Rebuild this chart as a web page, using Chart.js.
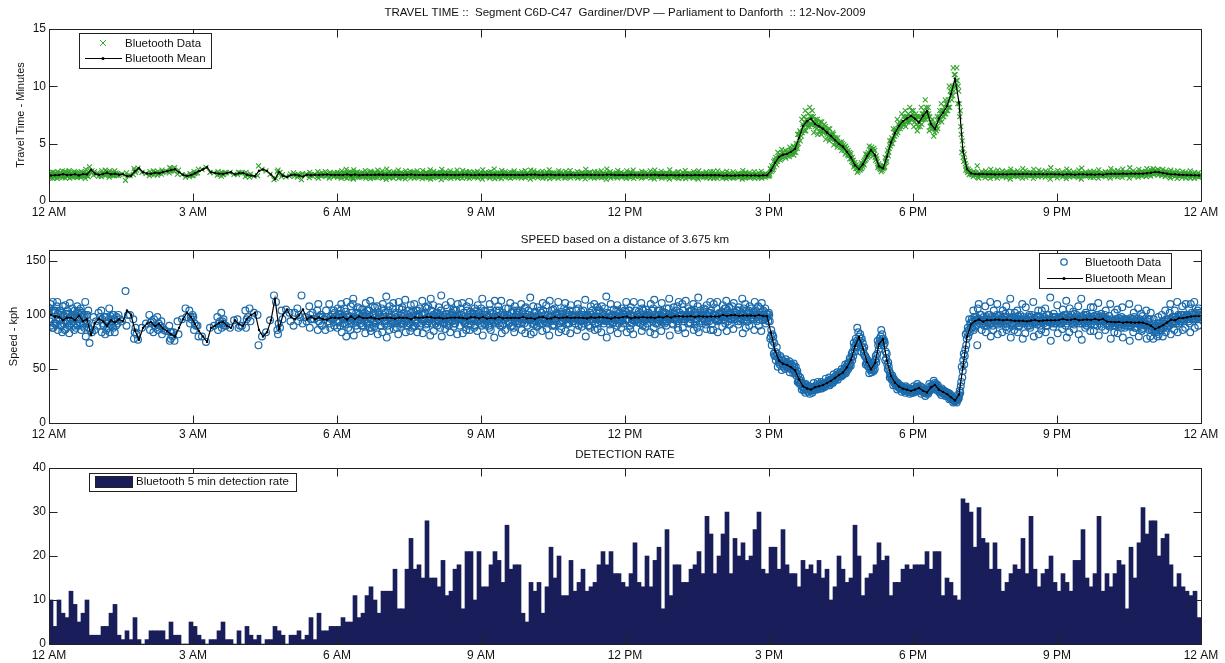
<!DOCTYPE html>
<html>
<head>
<meta charset="utf-8">
<script src="https://cdn.jsdelivr.net/npm/chart.js@4.4.1/dist/chart.umd.min.js"></script>
<style>
  body { margin: 0; background: #fff; }
  canvas { position: absolute; left: 0; }
</style>
</head>
<body>
<canvas id="ttChart" width="1225" height="222" style="top:0"></canvas>
<canvas id="speedChart" width="1225" height="222" style="top:222px"></canvas>
<canvas id="rateChart" width="1225" height="219" style="top:444px"></canvas>
<script>
// x axis tick labels, one every 3 hours (180 min)
var hourLabels = ['12 AM', '3 AM', '6 AM', '9 AM', '12 PM', '3 PM', '6 PM', '9 PM', '12 AM'];
var ttTicks = [0, 5, 10, 15];
var speedTicks = [0, 50, 100, 150];
var rateTicks = [0, 10, 20, 30, 40];
var segmentKm = 3.675;

// detections per 5 minute bin, 288 bins from midnight
var detections = [
  10, 4, 10, 7, 6, 12, 9, 5, 7, 10, 2, 2,
  2, 4, 4, 7, 9, 2, 1, 3, 1, 6, 1, 0,
  1, 3, 3, 3, 3, 1, 5, 2, 2, 0, 0, 5,
  4, 2, 1, 0, 1, 1, 3, 5, 1, 1, 0, 3,
  0, 4, 2, 1, 2, 0, 1, 1, 4, 3, 2, 0,
  2, 2, 3, 1, 2, 6, 1, 7, 3, 3, 4, 4,
  4, 6, 5, 5, 11, 6, 7, 11, 13, 10, 7, 12,
  12, 12, 17, 8, 8, 17, 24, 17, 18, 15, 28, 15,
  15, 13, 19, 11, 12, 17, 18, 8, 21, 21, 10, 21,
  13, 13, 18, 21, 19, 14, 27, 17, 18, 18, 7, 5,
  14, 12, 14, 7, 13, 22, 15, 20, 11, 11, 19, 12,
  14, 17, 12, 13, 14, 18, 21, 18, 21, 16, 16, 14,
  13, 16, 23, 14, 13, 20, 13, 19, 22, 8, 26, 11,
  18, 18, 14, 14, 17, 18, 21, 16, 29, 25, 16, 20,
  25, 30, 16, 24, 20, 23, 19, 20, 26, 30, 17, 16,
  22, 22, 17, 26, 18, 16, 16, 13, 19, 17, 18, 16,
  19, 15, 17, 10, 13, 20, 17, 14, 15, 27, 20, 11,
  15, 16, 18, 23, 19, 20, 11, 14, 14, 17, 18, 17,
  18, 18, 18, 21, 17, 21, 21, 11, 15, 14, 11, 10,
  33, 32, 30, 22, 31, 24, 23, 17, 23, 17, 12, 14,
  16, 18, 17, 24, 16, 29, 17, 13, 16, 17, 20, 14,
  12, 16, 14, 12, 19, 19, 26, 15, 13, 16, 29, 12,
  16, 13, 16, 19, 18, 8, 22, 15, 23, 31, 25, 28,
  28, 20, 24, 25, 18, 13, 16, 13, 12, 11, 12, 6
];

// speed readings (kph), first half of each 5 minute bin, one line per hour
var speedFirstHalf = [
  [106,94,110,90],[88,104,92,104],[112,86,101,97],[90,102,84,108],[109,87,95,101],[83,111,97,97],[100,90,86,104],[108,90,102,96],[86,102,98,90],[112,80,92,100],[74,86],[98,86],
  [90,102],[104,84,96,92],[82,98,86,94],[106,84,99,91],[88,100,96,84],[92,100],[94],[122,90],[100],[96,78,84],[77],[88],
  [92],[100,86,93],[84,96,90],[98,86,92],[94,82,88],[85],[90,76,84,78],[84,76],[94,82],[96],[106,98],[104,92,98],
  [98,86,92],[90,80],[80],[75],[88],[90],[98,86,92],[102,88,94,92],[90],[88],[95],[96,88],
  [90],[104,88,96],[106,94],[102],[100,72],[80],[84],[95],[118],[86,82,92],[104,96],[105],
  [102,94],[90,102],[106,94,100],[118,92],[98,94],[108,88,100,96],[96],[104,86,110,94],[100,90,98],[86,104,98],[110,92,88,98],[96,104,90,102],
  [88,106,93,101],[110,84,97,99],[91,103,80,112],[99,95,86,108],[115,81,94,98],[87,107,102,96],[96,90,105,101],[83,111,98,92],[104,88,113,85],[93,101,89,107],[108,82,96,100],[90,106,84,110],
  [102,94,117,79],[86,108,97,95],[111,87,92,100],[95,97,82,112],[89,105,107,91],[114,84,96,94],[98,92,85,109],[103,89,110,90],[84,104,99,101],[92,100,113,83],[107,91,88,106],[96,98,81,115],
  [109,85,100,94],[90,102,95,107],[118,80,97,93],[87,109,101,91],[94,98,84,112],[105,89,92,104],[82,110,99,97],[100,96,111,83],[93,95,86,108],[112,86,103,91],[97,101,88,106],[85,109,94,98],
  [106,90,115,81],[91,103,96,100],[88,110,104,86],[101,93,79,113],[95,99,108,92],[113,83,90,102],[86,106,97,97],[99,93,111,89],[104,88,84,108],[92,102,100,94],[110,86,93,103],[83,107,98,96],
  [97,95,116,82],[108,84,91,103],[89,107,100,96],[102,92,85,111],[94,96,109,87],[81,113,98,94],[105,91,90,106],[99,97,112,84],[87,103,95,101],[111,85,104,92],[92,104,83,109],[100,94,97,99],
  [86,110,106,90],[103,89,94,100],[114,80,99,97],[90,102,88,108],[96,98,110,86],[107,87,92,104],[84,108,101,95],[98,94,117,79],[101,91,86,110],[93,105,97,97],[109,83,104,92],[88,106,95,101],
  [95,103,112,84],[104,90,87,107],[82,112,99,95],[100,96,93,103],[111,85,106,90],[89,105,98,98],[97,99,84,110],[106,88,114,82],[92,104,96,100],[85,111,103,93],[102,94,90,106],[115,81,97,99],
  [91,107,101,97],[108,88,86,112],[96,100,110,88],[83,113,99,97],[103,93,92,104],[110,86,105,91],[88,108,116,84],[99,97,94,102],[105,91,87,109],[94,102,112,86],[86,110,100,96],[112,84,95,101],
  [100,98,89,109],[92,106,113,85],[107,91,102,96],[87,111,98,100],[104,94,91,107],[96,102,115,83],[110,88,94,104],[90,108,101,97],[102,96,86,112],[98,100,108,90],[85,111,103,95],[106,92,97,101],
  [100,94,78,80],[80,64,74,62],[64,52,60,56],[60,49,58,53],[50,59,55,52],[57,47,54,50],[46,55,52,47],[48,38,44,38],[39,31,37,33],[28,36,31,33],[34,27,33,30],[30,37,32,33],
  [31,38,33,34],[38,32,36,34],[34,41,36,37],[42,35,40,39],[38,45,40,41],[47,40,45,44],[43,50,44,47],[54,46,52,48],[52,60,55,53],[62,74,70,66],[88,74,84,74],[66,78,70,74],
  [62,54,60,56],[46,54,49,51],[56,48,54,50],[64,76,72,68],[86,76,82,76],[58,66,60,64],[48,42,46,44],[35,41,37,39],[31,37,33,35],[34,29,33,32],[28,34,30,32],[32,27,31,30],
  [28,34,30,32],[36,30,34,32],[27,33,29,31],[25,31,27,29],[36,30,34,32],[33,39,35,37],[30,35,31,32],[26,32,28,30],[25,29,26,28],[22,27,23,24],[19,23,20,22],[21,26,22,23],
  [38,52,42,48],[68,82,72,78],[96,84,92,88],[104,86,98,88],[72,106,96,110],[100,86,94,92],[108,84,90,98],[92,100,112,80],[86,104,96,94],[110,82,91,99],[95,97,84,104],[101,89,108,86],
  [88,102,115,79],[97,91,86,102],[104,84,99,89],[92,96,110,78],[83,107,94,94],[100,90,88,98],[112,80,97,93],[91,99,104,82],[86,104,93,95],[106,84,90,100],[95,93,116,76],[89,101,98,92],
  [109,83,94,96],[92,98,87,105],[100,90,113,79],[84,106,97,95],[103,87,91,101],[96,94,108,82],[115,77,92,98],[88,102,100,90],[94,96,85,107],[107,85,99,91],[90,100,111,81],[101,89,95,97],
  [86,104,96,92],[99,89,110,78],[93,95,84,102],[105,83,91,97],[88,98,107,79],[96,90,93,95],[110,76,89,97],[84,102,98,88],[92,94,106,80],[101,85,87,99],[90,92,104,78],[86,96,80,102],
  [78,96,84,90],[92,80,98,82],[86,100,94,80],[104,84,96,88],[90,102,110,82],[98,92,86,104],[112,84,100,92],[94,100,108,86],[88,110,97,99],[106,92,84,110],[100,96,112,88],[96,104,90,106]
];

// speed readings (kph), second half of each 5 minute bin, one line per hour
var speedSecondHalf = [
  [96,104,88,112],[102,92,96,108],[94,104,90,100],[100,92,98,86],[104,94,100,90],[92,100,106,94],[98,88,92,102],[96,104,92,106],[92,98,88,100],[100,92,104,88],[84],[94],
  [98],[90,98],[92,88],[96,90,100],[94,90,98],[96],[],[100],[],[88,82],[],[],
  [],[94],[88],[90],[86],[],[84,80],[],[],[],[],[96,100],
  [90],[],[],[],[],[],[94],[96,90],[],[],[],[90],
  [],[98],[],[],[],[],[],[],[112],[88],[],[],
  [],[],[98],[],[],[96,102],[],[98,92,100],[96],[94],[96,100],[98,94],
  [94,100,90,104],[98,92,106,96],[100,94,88,98],[92,102,96,110],[96,90,102,94],[100,106,92,98],[90,98,94,102],[104,96,92,100],[96,88,100,108],[92,100,98,94],[102,94,90,98],[98,104,94,92],
  [96,90,104,98],[100,94,92,106],[94,102,98,88],[106,96,92,100],[98,92,102,94],[90,100,96,104],[102,96,88,98],[94,100,104,92],[98,106,90,96],[100,94,96,102],[92,98,108,94],[104,96,92,100],
  [98,92,102,96],[94,100,88,104],[100,96,92,98],[106,94,98,90],[96,102,94,100],[92,98,104,96],[100,90,96,106],[94,102,98,92],[104,96,90,100],[96,94,102,98],[90,100,96,104],[102,96,92,98],
  [96,100,92,104],[100,94,98,90],[94,102,96,98],[98,92,104,94],[104,96,90,100],[92,100,98,96],[100,94,106,92],[96,102,90,98],[94,98,100,104],[102,92,96,98],[98,96,92,106],[90,100,104,96],
  [100,96,92,98],[94,102,98,90],[98,92,104,96],[104,96,94,100],[92,100,96,98],[98,104,90,96],[96,94,100,102],[100,92,98,94],[94,98,106,96],[102,96,92,100],[96,100,94,98],[92,98,104,96],
  [98,94,100,96],[104,92,96,100],[96,100,90,98],[100,96,104,94],[92,98,96,102],[98,104,94,96],[96,92,100,106],[102,96,94,98],[94,100,98,92],[100,96,104,90],[96,102,94,98],[98,92,100,104],
  [96,100,94,104],[100,92,98,96],[94,104,96,100],[98,96,102,92],[104,94,98,96],[92,100,96,102],[98,96,104,94],[100,92,96,98],[96,104,94,100],[102,96,98,92],[94,98,100,106],[98,102,92,96],
  [100,96,104,94],[96,102,98,100],[104,94,100,96],[98,100,92,106],[96,104,98,100],[102,96,94,100],[98,92,104,100],[100,106,96,94],[94,100,102,98],[104,98,92,100],[100,96,106,94],[96,102,98,100],
  [102,96,100,106],[98,104,94,100],[100,96,108,98],[96,102,100,104],[104,98,94,100],[100,106,96,98],[98,94,102,104],[106,100,96,98],[100,104,98,94],[96,102,106,100],[104,98,100,96],[98,100,94,102],
  [86,72,82,76],[66,58,62,70],[58,54,62,56],[52,57,55,54],[56,51,53,54],[50,54,52,49],[48,52,44,46],[40,36,42,37],[34,30,36,32],[31,34,29,33],[30,33,28,32],[34,31,35,32],
  [33,36,32,35],[35,37,33,36],[38,36,39,35],[40,38,41,37],[43,40,44,42],[45,43,47,44],[48,45,50,47],[52,55,50,56],[60,64,58,66],[72,78,70,76],[80,76,82,78],[68,64,70,62],
  [54,58,52,56],[50,47,52,49],[58,62,56,60],[74,78,72,80],[78,72,76,74],[54,50,56,52],[42,40,44,41],[37,35,38,36],[34,32,35,33],[32,30,33,31],[30,32,29,31],[30,28,31,29],
  [31,29,33,30],[32,30,34,31],[29,31,28,30],[28,30,27,29],[32,34,31,35],[35,33,36,34],[30,28,31,29],[28,30,27,29],[26,28,25,27],[23,25,22,24],[20,22,21,19],[26,30,28,34],
  [58,64,54,62],[84,88,80,86],[92,96,88,94],[94,90,98,96],[96,92,100,94],[94,98,90,96],[96,92,100,94],[92,98,96,90],[98,94,92,100],[94,96,100,92],[96,92,98,94],[92,98,94,96],
  [96,92,98,90],[94,98,92,96],[90,96,100,94],[98,92,94,96],[94,90,98,92],[96,100,92,94],[92,96,94,98],[98,94,90,96],[94,92,98,96],[90,96,94,100],[96,92,98,94],[94,98,92,96],
  [94,98,96,92],[98,94,100,96],[92,96,94,98],[96,100,92,94],[98,94,96,100],[94,92,98,96],[96,100,94,92],[100,96,92,98],[92,98,96,94],[96,94,100,98],[98,92,94,96],[94,98,96,100],
  [92,96,90,94],[96,92,94,90],[90,94,96,92],[94,90,92,96],[92,96,94,88],[96,92,90,94],[90,94,92,96],[94,88,96,92],[92,96,90,94],[88,94,92,96],[94,90,96,88],[90,86,92,88],
  [86,90,84,88],[88,92,86,90],[92,88,94,90],[94,90,96,92],[96,92,98,94],[94,98,92,96],[98,94,96,100],[96,100,94,98],[100,96,98,94],[98,102,96,100],[100,96,102,98],[98,102,100,96]
];

// build point lists: readings spread over their half bin, travel time from speed over the segment
var speedPts = [], speedMean = [], ttPts = [], ttMean = [];
speedFirstHalf.forEach(function (first, i) {
  var halves = [first, speedSecondHalf[i] || []];
  var s = 0, t = 0, n = 0;
  halves.forEach(function (vals, h) {
    vals.forEach(function (v, j) {
      var x = i * 5 + h * 2.5 + (j + 0.5) * 2.5 / vals.length;
      var tt = 60 * segmentKm / v;
      speedPts.push({ x: x, y: v });
      ttPts.push({ x: x, y: tt });
      s += v; t += tt; n++;
    });
  });
  if (!n) return;
  speedMean.push({ x: i * 5 + 2.5, y: s / n });
  ttMean.push({ x: i * 5 + 2.5, y: t / n });
});
var ratePts = detections.map(function (c, i) { return { x: i * 5 + 2.5, y: c }; });

Chart.defaults.font.family = "'Liberation Sans', Arial, sans-serif";
Chart.defaults.font.size = 12;
Chart.defaults.color = '#111';

// matlab style box with inward ticks on all four sides
var matlabBox = {
  id: 'matlabBox',
  afterDraw: function (chart) {
    var ctx = chart.ctx, a = chart.chartArea, sx = chart.scales.x, sy = chart.scales.y;
    var L = Math.round(a.left) + 0.5, R = Math.round(a.right) + 0.5;
    var T = Math.round(a.top) + 0.5, B = Math.round(a.bottom) + 0.5;
    ctx.save();
    ctx.strokeStyle = '#222';
    ctx.lineWidth = 1;
    ctx.strokeRect(L, T, R - L, B - T);
    ctx.beginPath();
    sx.ticks.forEach(function (t) {
      var px = Math.round(sx.getPixelForValue(t.value)) + 0.5;
      ctx.moveTo(px, B); ctx.lineTo(px, B - 8);
      ctx.moveTo(px, T); ctx.lineTo(px, T + 8);
    });
    sy.ticks.forEach(function (t) {
      var py = Math.round(sy.getPixelForValue(t.value)) + 0.5;
      ctx.moveTo(L, py); ctx.lineTo(L + 8, py);
      ctx.moveTo(R, py); ctx.lineTo(R - 8, py);
    });
    ctx.stroke();
    ctx.restore();
  }
};

// boxed legend drawn inside the axes like matlab
var boxLegend = {
  id: 'boxLegend',
  afterDraw: function (chart, args, o) {
    var ctx = chart.ctx;
    ctx.save();
    ctx.fillStyle = '#fff';
    ctx.fillRect(o.box[0], o.box[1], o.box[2], o.box[3]);
    ctx.strokeStyle = '#222';
    ctx.lineWidth = 1;
    ctx.strokeRect(o.box[0] + 0.5, o.box[1] + 0.5, o.box[2], o.box[3]);
    o.rows.forEach(function (r) {
      var ds = chart.data.datasets[r.ds];
      ctx.lineWidth = 1;
      if (r.kind === 'cross') {
        ctx.strokeStyle = ds.borderColor;
        ctx.beginPath();
        ctx.moveTo(o.symX - 3, r.y - 3); ctx.lineTo(o.symX + 3, r.y + 3);
        ctx.moveTo(o.symX - 3, r.y + 3); ctx.lineTo(o.symX + 3, r.y - 3);
        ctx.stroke();
      } else if (r.kind === 'circle') {
        ctx.strokeStyle = ds.borderColor;
        ctx.lineWidth = 1.3;
        ctx.beginPath();
        ctx.arc(o.symX, r.y, 3.2, 0, Math.PI * 2);
        ctx.stroke();
      } else if (r.kind === 'line') {
        ctx.strokeStyle = '#000';
        ctx.beginPath();
        ctx.moveTo(o.lineFrom, r.y + 0.5); ctx.lineTo(o.lineTo, r.y + 0.5);
        ctx.stroke();
        ctx.fillStyle = '#000';
        ctx.beginPath();
        ctx.arc(o.symX, r.y + 0.5, 1.6, 0, Math.PI * 2);
        ctx.fill();
      } else if (r.kind === 'bar') {
        ctx.fillStyle = ds.backgroundColor;
        ctx.fillRect(o.swatch[0], o.swatch[1], o.swatch[2], o.swatch[3]);
        ctx.strokeStyle = '#222';
        ctx.strokeRect(o.swatch[0] + 0.5, o.swatch[1] + 0.5, o.swatch[2], o.swatch[3]);
      }
      ctx.fillStyle = '#111';
      ctx.font = "11.5px 'Liberation Sans', Arial, sans-serif";
      ctx.textBaseline = 'middle';
      ctx.fillText(ds.label, o.textX, r.y + 0.5);
    });
    ctx.restore();
  }
};

function timeAxis(h) {
  return {
    type: 'linear', min: 0, max: 1440, offset: false,
    grid: { display: false, drawTicks: false },
    border: { display: false },
    ticks: {
      stepSize: 180, autoSkip: false, maxRotation: 0, padding: 4,
      callback: function (v) { return hourLabels[Math.round(v / 180)]; }
    },
    afterFit: function (s) { s.height = h; }
  };
}

function valueAxis(tickVals, max, title, titlePad) {
  return {
    min: tickVals[0], max: max,
    grid: { display: false, drawTicks: false },
    border: { display: false },
    ticks: { padding: 3 },
    afterBuildTicks: function (s) {
      s.ticks = tickVals.map(function (v) { return { value: v }; });
    },
    title: { display: !!title, text: title, font: { size: 11 }, padding: { top: titlePad, bottom: 0 } },
    afterFit: function (s) { s.width = 49; }
  };
}

function titleOpts(text, top, bottom) {
  return {
    display: true, text: text, fullSize: false, color: '#111',
    font: { size: 11.5, weight: 'normal' },
    padding: { top: top, bottom: bottom }
  };
}

var common = {
  responsive: false,
  animation: false,
  devicePixelRatio: 1,
  layout: { padding: { left: 0, right: 24, top: 0, bottom: 0 } }
};

new Chart(document.getElementById('ttChart'), {
  type: 'scatter',
  data: {
    datasets: [{
      label: 'Bluetooth Mean', data: ttMean, showLine: true,
      borderColor: '#000', backgroundColor: '#000', borderWidth: 1.2,
      pointRadius: 1.2, pointBorderWidth: 0
    }, {
      label: 'Bluetooth Data', data: ttPts,
      pointStyle: 'crossRot', pointRadius: 3.5, borderWidth: 1.1,
      borderColor: '#34a52d', backgroundColor: '#34a52d'
    }]
  },
  options: Object.assign({}, common, {
    scales: { x: timeAxis(21), y: valueAxis(ttTicks, 15, 'Travel Time - Minutes', 14) },
    plugins: {
      legend: { display: false }, tooltip: { enabled: false },
      title: titleOpts('TRAVEL TIME ::  Segment C6D-C47  Gardiner/DVP \u2014 Parliament to Danforth  :: 12-Nov-2009', 6, 9.2),
      boxLegend: {
        box: [79, 33, 132, 35], symX: 103, lineFrom: 85, lineTo: 122, textX: 125,
        rows: [{ ds: 1, kind: 'cross', y: 43 }, { ds: 0, kind: 'line', y: 58 }]
      }
    }
  }),
  plugins: [matlabBox, boxLegend]
});

new Chart(document.getElementById('speedChart'), {
  type: 'scatter',
  data: {
    datasets: [{
      label: 'Bluetooth Mean', data: speedMean, showLine: true,
      borderColor: '#000', backgroundColor: '#000', borderWidth: 1.2,
      pointRadius: 1.2, pointBorderWidth: 0
    }, {
      label: 'Bluetooth Data', data: speedPts,
      pointStyle: 'circle', pointRadius: 3.4, borderWidth: 1.2,
      borderColor: '#1b6aab', backgroundColor: 'rgba(0,0,0,0)'
    }]
  },
  options: Object.assign({}, common, {
    scales: { x: timeAxis(21), y: valueAxis(speedTicks, 160, 'Speed - kph', 7) },
    plugins: {
      legend: { display: false }, tooltip: { enabled: false },
      title: titleOpts('SPEED based on a distance of 3.675 km', 11, 3.2),
      boxLegend: {
        box: [1039, 31, 132, 35], symX: 1064, lineFrom: 1047, lineTo: 1083, textX: 1085,
        rows: [{ ds: 1, kind: 'circle', y: 40 }, { ds: 0, kind: 'line', y: 56 }]
      }
    }
  }),
  plugins: [matlabBox, boxLegend]
});

new Chart(document.getElementById('rateChart'), {
  type: 'bar',
  data: {
    datasets: [{
      label: 'Bluetooth 5 min detection rate', data: ratePts,
      backgroundColor: '#191d5a', borderWidth: 0,
      barPercentage: 1, categoryPercentage: 1
    }]
  },
  options: Object.assign({}, common, {
    scales: { x: timeAxis(19), y: valueAxis(rateTicks, 40, '', 0) },
    plugins: {
      legend: { display: false }, tooltip: { enabled: false },
      title: titleOpts('DETECTION RATE', 4, 6.2),
      boxLegend: {
        box: [89, 29, 207, 18], swatch: [95, 32, 37, 11], textX: 136,
        rows: [{ ds: 0, kind: 'bar', y: 37 }]
      }
    }
  }),
  plugins: [matlabBox, boxLegend]
});
</script>
</body>
</html>
